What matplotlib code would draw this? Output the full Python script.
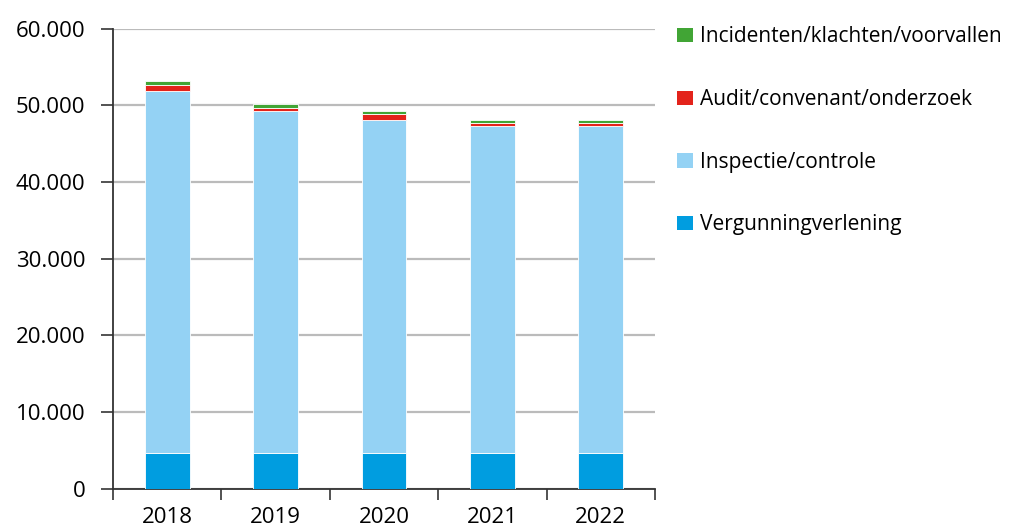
import matplotlib
matplotlib.use("Agg")
import matplotlib.pyplot as plt
from matplotlib.patches import Patch
import numpy as np

years = ["2018", "2019", "2020", "2021", "2022"]
vergunning = [4700, 4700, 4700, 4700, 4700]
inspectie = [47100, 44600, 43400, 42600, 42600]
audit = [800, 400, 800, 400, 400]
incidenten = [500, 500, 400, 400, 400]

labels = ["Vergunningverlening", "Inspectie/controle",
          "Audit/convenant/onderzoek", "Incidenten/klachten/voorvallen"]
colors = ["#009de0", "#94d2f4", "#e3231b", "#41a535"]

plt.rcParams["font.family"] = ["Open Sans", "DejaVu Sans"]

fig = plt.figure(figsize=(10.1, 5.3), dpi=100)
ax = fig.add_axes([0.1119, 0.0779, 0.5366, 0.8683])

x = np.arange(len(years))
bottom = np.zeros(len(years))
for series, col, lab in zip([vergunning, inspectie, audit, incidenten], colors, labels):
    ax.bar(x, series, width=0.415, bottom=bottom, color=col, edgecolor="white",
           linewidth=0.6, label=lab, zorder=3)
    bottom += np.array(series)

ax.set_xlim(-0.5, len(years) - 0.5)
ax.set_ylim(0, 60000)
ax.set_yticks(range(0, 60001, 10000))
ax.set_yticklabels(["0"] + [f"{v // 1000}.000" for v in range(10000, 60001, 10000)])
ax.yaxis.grid(True, color="#bbbbbb", linewidth=1.6, zorder=0)
ax.set_axisbelow(True)

# ticks between the categories, labels under the bars
ax.set_xticks(np.arange(-0.5, len(years)), minor=False)
ax.set_xticklabels([])
ax.set_xticks(x, minor=True)
ax.set_xticklabels(years, minor=True)
ax.tick_params(axis="x", which="major", length=8, width=1.3, color="#444444", direction="out")
ax.tick_params(axis="x", which="minor", length=0, pad=13, labelsize=16)
ax.tick_params(axis="y", length=9, width=1.3, color="#444444", pad=11, labelsize=16)

for s in ["top", "right"]:
    ax.spines[s].set_visible(False)
ax.spines["left"].set_color("#333333")
ax.spines["left"].set_linewidth(1.3)
ax.spines["bottom"].set_color("#333333")
ax.spines["bottom"].set_linewidth(1.3)

handles = [Patch(facecolor=c) for c in colors][::-1]
fig.legend(handles, labels[::-1], loc="upper left", bbox_to_anchor=(0.66, 0.97),
           frameon=False, fontsize=15, handlelength=0.78, handleheight=0.68,
           handletextpad=0.3, labelspacing=2.0, borderpad=0)

fig.savefig("out.png", dpi=100)
